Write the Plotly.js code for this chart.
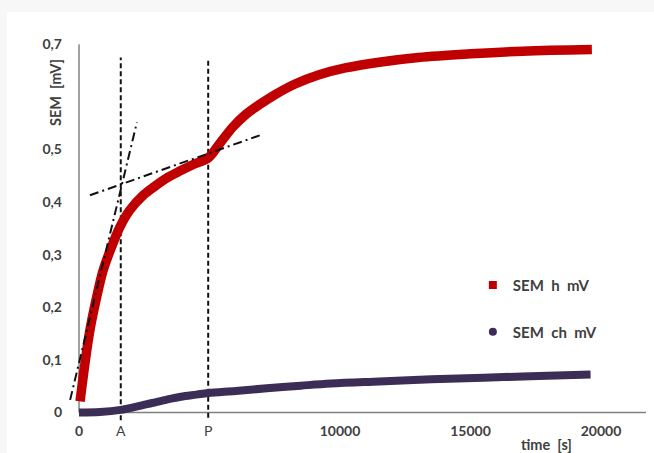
<!DOCTYPE html>
<html>
<head>
<meta charset="utf-8">
<script src="https://cdn.plot.ly/plotly-3.0.1.min.js"></script>
<style>
  html, body { margin: 0; padding: 0; background: #f7f7f7; width: 654px; height: 453px; overflow: hidden; }
  #plot { position: absolute; left: 7px; top: 12px; width: 647px; height: 441px; background: #ffffff; }
</style>
</head>
<body>
<div id="plot"></div>
<script>
// ---- data ----
const timeH = [40, 230, 420, 680, 930, 1250, 1570, 1950, 2460, 2900, 3400, 3900, 4400, 4950, 5400, 5900, 6400, 6900, 7500, 8300, 9200, 10200, 11500, 13000, 15000, 17000, 19650];
const semH  = [0.021, 0.094, 0.157, 0.22, 0.271, 0.315, 0.353, 0.385, 0.413, 0.43, 0.447, 0.46, 0.472, 0.484, 0.512, 0.543, 0.567, 0.585, 0.604, 0.625, 0.642, 0.655, 0.666, 0.675, 0.682, 0.687, 0.69];

const timeCh = [0, 800, 1600, 2200, 2800, 3400, 3900, 4500, 4950, 6000, 7200, 8500, 9650, 11500, 13500, 15500, 17300, 19600];
const semCh  = [0.0, 0.001, 0.005, 0.011, 0.018, 0.025, 0.03, 0.034, 0.037, 0.041, 0.046, 0.051, 0.055, 0.059, 0.063, 0.066, 0.069, 0.072];

// construction lines
const markA = 1600, markP = 4950;
const lineA_t = [markA, markA], lineA_v = [-0.015, 0.675];
const lineP_t = [markP, markP], lineP_v = [-0.01, 0.67];
const tan1_t = [-340, 2220], tan1_v = [0.024, 0.552];
const tan2_t = [420, 6930],  tan2_v = [0.413, 0.527];

// tick labels
const xTickVals = [0, markA, markP, 10000, 15000, 20000];
const xTickText = ['<b>0</b>', 'A', 'P', '<b>10000</b>', '<b>15000</b>', '<b>20000</b>'];
const yTickVals = [0, 0.1, 0.2, 0.3, 0.4, 0.5, 0.7];
const yTickText = ['0', '0,1', '0,2', '0,3', '0,4', '0,5', '0,7'];

const X_RANGE = [-613, 21724];
const Y_RANGE = [-0.0162, 0.7196];
const X_AXIS_END = 21724, Y_AXIS_TOP = 0.7;

const RED = '#c00000', PURPLE = '#3b2d55', TXT = '#404040';
const FONT = 'Lato, "Open Sans", sans-serif';

const traces = [
  {x: lineA_t, y: lineA_v, mode: 'lines', line: {color: '#111', width: 2, dash: '5px,3px'}, showlegend: false, hoverinfo: 'skip'},
  {x: lineP_t, y: lineP_v, mode: 'lines', line: {color: '#111', width: 2, dash: '5px,3px'}, showlegend: false, hoverinfo: 'skip'},
  {x: timeCh, y: semCh, mode: 'lines', line: {color: PURPLE, width: 8, shape: 'spline', smoothing: 1}, showlegend: false},
  {x: timeH, y: semH, mode: 'lines', line: {color: RED, width: 9.5, shape: 'spline', smoothing: 1}, showlegend: false},
  {x: tan1_t, y: tan1_v, mode: 'lines', line: {color: '#111', width: 2, dash: '9px,4px,2px,4px'}, showlegend: false, hoverinfo: 'skip'},
  {x: tan2_t, y: tan2_v, mode: 'lines', line: {color: '#111', width: 2, dash: '9px,4px,2px,4px'}, showlegend: false, hoverinfo: 'skip'},
  {x: [null], y: [null], mode: 'markers', name: 'SEM\u00a0\u00a0h\u00a0\u00a0mV', marker: {symbol: 'square', size: 8, color: RED}, legend: 'legend'},
  {x: [null], y: [null], mode: 'markers', name: 'SEM\u00a0\u00a0ch\u00a0\u00a0mV', marker: {symbol: 'circle', size: 8, color: PURPLE}, legend: 'legend2'}
];

const legendFont = {family: FONT, size: 15, color: TXT, weight: 'bold'};

const layout = {
  width: 647, height: 441,
  margin: {l: 56, r: 8, t: 22, b: 32},
  paper_bgcolor: '#ffffff', plot_bgcolor: '#ffffff',
  font: {family: FONT, size: 14, color: TXT},
  showlegend: true,
  legend: {x: 0.703, y: 0.351, xanchor: 'left', yanchor: 'middle', bgcolor: 'rgba(0,0,0,0)', font: legendFont},
  legend2: {x: 0.703, y: 0.23, xanchor: 'left', yanchor: 'middle', bgcolor: 'rgba(0,0,0,0)', font: legendFont},
  xaxis: {
    range: X_RANGE, showgrid: false, zeroline: false, showline: false,
    tickmode: 'array', tickvals: xTickVals, ticktext: xTickText, ticks: '',
    tickfont: {family: FONT, size: 14, color: TXT}
  },
  yaxis: {
    range: Y_RANGE, showgrid: false, zeroline: false, showline: false,
    tickmode: 'array', tickvals: yTickVals, ticktext: yTickText, ticks: '',
    tickfont: {family: FONT, size: 14, color: TXT, weight: 'bold'}
  },
  shapes: [
    {type: 'line', xref: 'x', yref: 'y', x0: 0, x1: X_AXIS_END, y0: 0, y1: 0, line: {color: '#808080', width: 1.5}, layer: 'below'},
    {type: 'line', xref: 'x', yref: 'y', x0: 0, x1: 0, y0: 0, y1: Y_AXIS_TOP, line: {color: '#444', width: 1}, layer: 'below'}
  ],
  annotations: [
    {text: '<b>SEM\u00a0\u00a0[mV]</b>', xref: 'paper', yref: 'paper', x: -0.0137, y: 0.8475, textangle: -90,
     showarrow: false, xanchor: 'center', yanchor: 'middle', font: {family: FONT, size: 14.5, color: TXT}},
    {text: '<b>time\u00a0\u00a0[s]</b>', xref: 'paper', yref: 'paper', x: 0.83, y: -0.061,
     showarrow: false, xanchor: 'center', yanchor: 'middle', font: {family: FONT, size: 14.5, color: TXT}}
  ]
};

Plotly.newPlot('plot', traces, layout, {displayModeBar: false, staticPlot: true});
</script>
</body>
</html>
